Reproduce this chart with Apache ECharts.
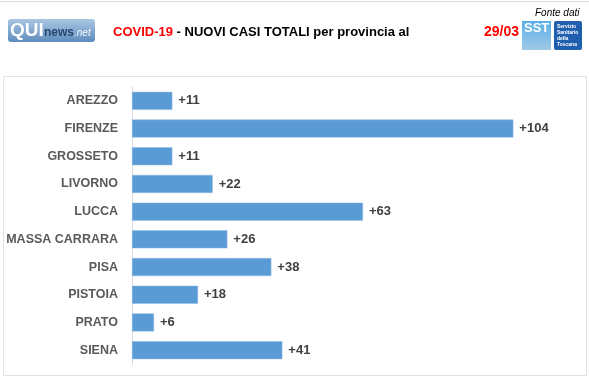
<!DOCTYPE html>
<html><head><meta charset="utf-8">
<script src="https://cdn.jsdelivr.net/npm/echarts@6/dist/echarts.min.js"></script>
<style>html,body{margin:0;padding:0;background:#fff}#c{width:589px;height:380px}</style>
</head><body><div id="c"></div>
<script>
const categories = ["AREZZO","FIRENZE","GROSSETO","LIVORNO","LUCCA","MASSA CARRARA","PISA","PISTOIA","PRATO","SIENA"];
const values = [11,104,11,22,63,26,38,18,6,41];
const dateLabel = "29/03";

const chart = echarts.init(document.getElementById('c'), null, {renderer:'canvas'});
const F = "'Liberation Sans', Arial, sans-serif";
chart.setOption({
  animation:false,
  backgroundColor:'#fff',
  grid:{left:132, top:87, width:440, height:277, containLabel:false},
  xAxis:{type:'value', min:0, max:120, show:false},
  yAxis:{type:'category', data:categories, inverse:true,
    axisLine:{show:true, lineStyle:{color:'#d9d9d9', width:1}},
    axisTick:{show:false},
    axisLabel:{color:'#595959', fontFamily:F, fontWeight:'bold', fontSize:12.5, margin:14}
  },
  series:[{type:'bar', data:values, barWidth:18,
    itemStyle:{color:'#5B9BD5', borderColor:'#8DBBE6', borderWidth:0.5},
    label:{show:true, position:'right', distance:6, color:'#404040', fontFamily:F, fontWeight:'bold', fontSize:13,
      formatter:p=>'+'+p.value}
  }],
  graphic:[
    {type:'rect', shape:{x:3.5,y:76.5,width:583,height:299}, style:{fill:'none', stroke:'#e3e3e3', lineWidth:1}, z:-1},
    {type:'line', shape:{x1:0,y1:1.5,x2:589,y2:1.5}, style:{stroke:'#dcdcdc', lineWidth:1}},
    {type:'rect', shape:{x:8,y:19,width:87,height:23,r:3},
      style:{fill:new echarts.graphic.LinearGradient(0,0,0,1,[{offset:0,color:'#a9c6e3'},{offset:1,color:'#5f8dbd'}])}},
    {type:'text', x:10, y:31, style:{text:'QUI', fill:'#fff', font:"bold 19px "+F, verticalAlign:'middle', stroke:'#7d9fc4', lineWidth:0.5}},
    {type:'text', x:44, y:33, style:{text:'news', fill:'#27466f', font:"bold 12px "+F, verticalAlign:'middle'}},
    {type:'text', x:74, y:33, style:{text:'.net', fill:'#f0f5fb', font:"italic 10px "+F, verticalAlign:'middle'}},
    {type:'text', x:113, y:32, style:{rich:{r:{fill:'#ff0000', font:"bold 13px "+F}, b:{fill:'#000', font:"bold 13px "+F}},
      text:'{r|COVID-19}{b| - NUOVI CASI TOTALI per provincia al}', verticalAlign:'middle'}},
    {type:'text', x:484, y:32, style:{text:dateLabel, fill:'#ff0000', font:"bold 14px "+F, verticalAlign:'middle'}},
    {type:'text', x:535, y:13, style:{text:'Fonte dati', fill:'#000', font:"italic 10px "+F, verticalAlign:'middle'}},
    {type:'rect', shape:{x:522,y:21,width:29,height:29}, style:{fill:new echarts.graphic.LinearGradient(0,0,0,1,[{offset:0,color:'#5bb0e8'},{offset:1,color:'#9fc9e6'}])}},
    {type:'text', x:524, y:28, style:{text:'SST', fill:'#fff', font:"bold 13px "+F, verticalAlign:'middle'}},
    {type:'rect', shape:{x:554,y:21,width:28,height:29,r:2}, style:{fill:'#1f5fae'}},
    {type:'text', x:557, y:35.5, style:{text:'Servizio\nSanitario\ndella\nToscana', fill:'#fff', font:"bold 5px "+F, lineHeight:6, verticalAlign:'middle'}}
  ]
});
</script></body></html>
